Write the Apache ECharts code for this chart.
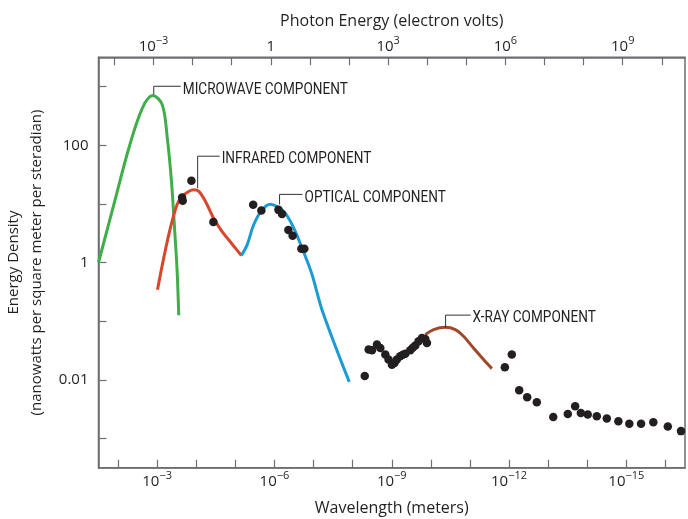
<!DOCTYPE html>
<html>
<head>
<meta charset="utf-8">
<script src="https://cdn.jsdelivr.net/npm/echarts@6/dist/echarts.min.js"></script>
<style>
  html, body { margin: 0; padding: 0; background: #fff; }
  #chart { width: 688px; height: 519px; }
</style>
</head>
<body>
<div id="chart"></div>
<script>
// 数据: [波长 (m), 能量密度 (nW m^-2 sr^-1)]
const microwaveCurve = [[3.16e-2, 1.0], [1.16e-2, 12.5], [5.3e-3, 89], [2.4e-3, 427], [1.29e-3, 703],
    [7.4e-4, 488], [5.5e-4, 132], [4.3e-4, 24], [3.55e-4, 3.4], [3.08e-4, 0.70], [2.8e-4, 0.126]];
const infraredCurve = [[9.8e-4, 0.344], [6.8e-4, 1.19], [4.6e-4, 3.85], [3.1e-4, 9.7], [2.3e-4, 13.4],
    [1.56e-4, 16.3], [1.16e-4, 17.4], [8.6e-5, 16.3], [5.8e-5, 11], [3.6e-5, 5.7], [2.2e-5, 3.4],
    [1.48e-5, 2.44], [1.0e-5, 1.76], [7.0e-6, 1.32]];
const opticalCurve = [[7.0e-6, 1.32], [5.0e-6, 2.0], [3.4e-6, 4.4], [2.07e-6, 7.9], [1.27e-6, 9.9],
    [8.6e-7, 9.0], [5.3e-7, 6.95], [3.2e-7, 3.86], [1.97e-7, 1.76], [1.09e-7, 0.62], [6.1e-8, 0.157],
    [1.22e-8, 0.0092]];
const xrayCurve = [[1.39e-10, 0.0589], [8.5e-11, 0.0716], [4.3e-11, 0.0783], [2.38e-11, 0.0716],
    [1.46e-11, 0.0551], [8.1e-12, 0.0348], [4.5e-12, 0.0221], [2.75e-12, 0.0155]];

// 测量点
const measuredPoints = [[1.33e-4, 24.8], [2.3e-4, 12.8], [2.22e-4, 11.3], [3.64e-5, 4.9], [3.5e-6, 9.7],
    [2.16e-6, 7.7], [7.9e-7, 7.9], [6.4e-7, 6.7], [4.4e-7, 3.6], [3.43e-7, 2.86], [2.05e-7, 1.72], [1.72e-7, 1.72],
    [4.9e-9, 0.01156], [3.9e-9, 0.0327], [3.2e-9, 0.0318], [2.39e-9, 0.0398], [1.96e-9, 0.0348], [1.46e-9, 0.0269],
    [1.21e-9, 0.0221], [9.9e-10, 0.0181], [8.5e-10, 0.0193], [7.4e-10, 0.0221], [6.1e-10, 0.0251], [5.2e-10, 0.0267],
    [4.5e-10, 0.0279], [3.36e-10, 0.0318], [2.9e-10, 0.0351], [2.5e-10, 0.0383], [2.06e-10, 0.0453],
    [1.69e-10, 0.0516], [1.39e-10, 0.0496], [1.26e-10, 0.0424],
    [1.28e-12, 0.0163], [8.5e-13, 0.0269], [5.5e-13, 0.00662], [3.44e-13, 0.00503], [1.95e-13, 0.00414],
    [7.4e-14, 0.00232], [3.14e-14, 0.00261], [2.04e-14, 0.00354], [1.46e-14, 0.00272], [9.7e-15, 0.00255],
    [5.7e-15, 0.00239], [3.16e-15, 0.00218], [1.6e-15, 0.00196], [8.4e-16, 0.00177], [4.2e-16, 0.00177],
    [2.04e-16, 0.00189], [8.7e-17, 0.0016], [4.0e-17, 0.00133]];

// 坐标轴刻度 (10 的指数)
const wavelengthTicks = [-16, -15, -14, -13, -12, -11, -10, -9, -8, -7, -6, -5, -4, -3, -2];
const wavelengthLabels = [-15, -12, -9, -6, -3];
const energyTicks = [-4, -3, -2, -1, 0, 1, 2, 3, 4, 5, 6, 7, 8, 9, 10];
const energyLabels = [-3, 0, 3, 6, 9];
const densityTicks = [-3, -2, -1, 0, 1, 2, 3];
const densityLabels = [-2, 0, 2];

// 注释
const annotationNames = ['MICROWAVE COMPONENT', 'INFRARED COMPONENT', 'OPTICAL COMPONENT', 'X-RAY COMPONENT'];
const annotationAnchors = [[1.22e-3, 740], [9.2e-5, 18.5], [7.4e-7, 9.8], [4.2e-11, 0.076]];
const annotationRise = [8, 32, 10, 13];
const annotationRun = [27, 22, 23, 25];

const LOG_HC = Math.log10(1.23984e-6); // 光子能量 (eV) = hc / λ
const FONT = "'Open Sans', 'Noto Sans', sans-serif";
const NARROW = "Roboto, sans-serif";
const AXIS_COLOR = '#6d6e71';
const TEXT_COLOR = '#231f20';

function toLog(points) {
    return points.map(p => [Math.log10(p[0]), Math.log10(p[1])]);
}

function powerLabel(v) {
    if (v === 0) return '{a|1}';
    return '{a|10}{b|' + (v < 0 ? '\u2212' : '') + Math.abs(v) + '}';
}

function densityLabel(v) {
    const n = Math.pow(10, v);
    return v >= 0 ? String(Math.round(n)) : n.toFixed(-v);
}

const richPower = {
    a: { fontSize: 15, fontFamily: FONT, color: TEXT_COLOR, lineHeight: 22 },
    b: { fontSize: 11, fontFamily: FONT, color: TEXT_COLOR, lineHeight: 11, verticalAlign: 'top' }
};

const chart = echarts.init(document.getElementById('chart'));

function curveSeries(data, color) {
    return {
        type: 'line',
        data: toLog(data),
        smooth: 0.35,
        showSymbol: false,
        symbol: 'none',
        lineStyle: { color: color, width: 3 },
        z: 2
    };
}

const axisLine = { onZero: false, lineStyle: { color: AXIS_COLOR, width: 1.5 } };
const tickStyle = { color: AXIS_COLOR, width: 1.2 };

chart.setOption({
    animation: false,
    grid: {
        left: 98.5, right: 3, top: 57.3, bottom: 51.3,
        outerBoundsMode: 'none',
        containLabel: false,
        show: true, borderColor: AXIS_COLOR, borderWidth: 1.5
    },
    xAxis: [{
        type: 'value',
        min: -16.5, max: -1.5,
        inverse: true,
        position: 'bottom',
        name: 'Wavelength (meters)',
        nameLocation: 'middle',
        nameGap: 33,
        nameTextStyle: { fontSize: 16, fontFamily: FONT, color: TEXT_COLOR },
        axisLine: axisLine,
        axisTick: { inside: true, length: 8, customValues: wavelengthTicks, lineStyle: tickStyle },
        axisLabel: { customValues: wavelengthLabels, formatter: powerLabel, rich: richPower, margin: 3 },
        splitLine: { show: false }
    }, {
        type: 'value',
        min: LOG_HC + 1.5, max: LOG_HC + 16.5,
        position: 'top',
        name: 'Photon Energy (electron volts)',
        nameLocation: 'middle',
        nameGap: 28,
        nameTextStyle: { fontSize: 16, fontFamily: FONT, color: TEXT_COLOR },
        axisLine: axisLine,
        axisTick: { inside: true, length: 8, customValues: energyTicks, lineStyle: tickStyle },
        axisLabel: { customValues: energyLabels, formatter: powerLabel, rich: richPower, margin: 0 },
        splitLine: { show: false }
    }],
    yAxis: {
        type: 'value',
        min: -3.5, max: 3.5,
        name: 'Energy Density\n(nanowatts per square meter per steradian)',
        nameLocation: 'middle',
        nameRotate: 90,
        nameGap: 46,
        nameTextStyle: { fontSize: 15, fontFamily: FONT, color: TEXT_COLOR, lineHeight: 23 },
        axisLine: axisLine,
        axisTick: { inside: true, length: 8, customValues: densityTicks, lineStyle: tickStyle },
        axisLabel: {
            customValues: densityLabels, formatter: densityLabel, margin: 10,
            fontSize: 15, fontFamily: FONT, color: TEXT_COLOR
        },
        splitLine: { show: false }
    },
    series: [
        curveSeries(microwaveCurve, '#3fae49'),
        curveSeries(infraredCurve, '#d9462b'),
        curveSeries(opticalCurve, '#1b9ad6'),
        curveSeries(xrayCurve, '#a0492a'),
        {
            type: 'scatter',
            data: toLog(measuredPoints),
            symbolSize: 8.5,
            itemStyle: { color: TEXT_COLOR, opacity: 1 },
            z: 3
        }
    ]
});

// 注释引线和文字
const graphics = [];
annotationNames.forEach((name, i) => {
    const p = chart.convertToPixel({ xAxisIndex: 0, yAxisIndex: 0 }, toLog([annotationAnchors[i]])[0]);
    const topY = p[1] - annotationRise[i];
    const endX = p[0] + annotationRun[i];
    graphics.push({
        type: 'polyline',
        shape: { points: [[p[0], p[1]], [p[0], topY], [endX, topY]] },
        style: { stroke: '#333', lineWidth: 1, fill: null },
        z: 10
    });
    graphics.push({
        type: 'text',
        x: endX + 2,
        y: topY + 3,
        scaleX: 0.8,
        style: {
            text: name, fill: TEXT_COLOR, fontSize: 17, fontFamily: NARROW,
            align: 'left', verticalAlign: 'middle'
        },
        z: 10
    });
});
chart.setOption({ graphic: graphics });
</script>
</body>
</html>
